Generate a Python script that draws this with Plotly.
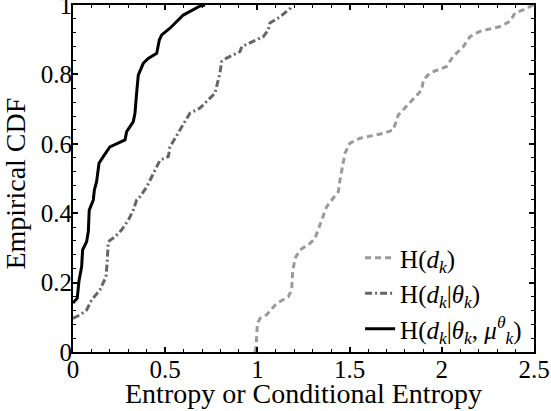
import plotly.graph_objects as go

# H(d_k) - dashed light gray
h_x = [0.987, 0.993, 1.0, 1.014, 1.05, 1.104, 1.167, 1.186, 1.191, 1.204, 1.231, 1.285, 1.312,
       1.348, 1.375, 1.403, 1.439, 1.448, 1.466, 1.475, 1.502, 1.556, 1.683, 1.737, 1.764, 1.8,
       1.845, 1.891, 1.9, 1.936, 2.026, 2.062, 2.117, 2.153, 2.207, 2.316, 2.37, 2.397, 2.442, 2.496]
h_y = [0.0, 0.015, 0.082, 0.097, 0.107, 0.14, 0.159, 0.179, 0.231, 0.27, 0.294, 0.313, 0.327,
       0.38, 0.418, 0.438, 0.462, 0.496, 0.544, 0.573, 0.602, 0.616, 0.63, 0.64, 0.683, 0.703,
       0.727, 0.755, 0.784, 0.804, 0.823, 0.852, 0.88, 0.909, 0.924, 0.938, 0.953, 0.977, 0.986, 1.0]

# H(d_k | theta_k) - dash-dot dark gray
ht_x = [0.0, 0.038, 0.074, 0.101, 0.146, 0.179, 0.186, 0.191, 0.228, 0.264, 0.3, 0.327, 0.345,
        0.363, 0.4, 0.436, 0.472, 0.517, 0.526, 0.58, 0.634, 0.689, 0.77, 0.797, 0.806, 0.833,
        0.906, 0.915, 1.032, 1.059, 1.068, 1.123, 1.177, 1.186]
ht_y = [0.097, 0.107, 0.121, 0.15, 0.179, 0.217, 0.265, 0.318, 0.332, 0.352, 0.38, 0.409, 0.438,
        0.447, 0.476, 0.514, 0.553, 0.563, 0.591, 0.64, 0.688, 0.703, 0.746, 0.804, 0.837, 0.847,
        0.866, 0.88, 0.909, 0.928, 0.948, 0.966, 0.99, 1.0]

# H(d_k | theta_k, mu_k^theta) - solid black
htm_x = [0.0, 0.023, 0.033, 0.047, 0.052, 0.074, 0.083, 0.088, 0.11, 0.116, 0.128, 0.141, 0.164,
         0.2, 0.282, 0.291, 0.327, 0.336, 0.345, 0.354, 0.381, 0.408, 0.454, 0.468, 0.481, 0.526,
         0.598, 0.634, 0.689, 0.716]
htm_y = [0.141, 0.155, 0.207, 0.246, 0.294, 0.318, 0.347, 0.409, 0.438, 0.467, 0.491, 0.544, 0.563,
         0.591, 0.611, 0.635, 0.664, 0.688, 0.746, 0.798, 0.832, 0.846, 0.861, 0.899, 0.914, 0.933,
         0.971, 0.981, 0.997, 1.0]

x_ticks = [0, 0.5, 1, 1.5, 2, 2.5]
x_ticklabels = ["0", "0.5", "1", "1.5", "2", "2.5"]
y_ticks = [0, 0.2, 0.4, 0.6, 0.8, 1]
y_ticklabels = ["0", "0.2", "0.4", "0.6", "0.8", "1"]
x_title = "Entropy or Conditional Entropy"
y_title = "Empirical CDF"

FONT = "Liberation Serif"
TICK_FS = 25
TITLE_FS = 28

fig = go.Figure()
fig.add_trace(go.Scatter(x=h_x, y=h_y, mode="lines", name="H(<i>d<sub>k</sub></i>)",
                         line=dict(color="#9a9a9a", width=3, dash="6px,4px")))
fig.add_trace(go.Scatter(x=ht_x, y=ht_y, mode="lines", name="H(<i>d<sub>k</sub></i>|<i>θ<sub>k</sub></i>)",
                         line=dict(color="#666666", width=3, dash="7px,3px,2px,3px")))
fig.add_trace(go.Scatter(x=htm_x, y=htm_y, mode="lines",
                         name="H(<i>d<sub>k</sub></i>|<i>θ<sub>k</sub></i>, <i>μ</i><sup><i>θ</i></sup><sub><i>k</i></sub>)",
                         line=dict(color="#000000", width=3)))

axis_common = dict(
    showline=True, linecolor="black", linewidth=2, mirror="allticks",
    ticks="inside", ticklen=5, tickwidth=1.5, tickcolor="black",
    showgrid=False, zeroline=False, ticklabeloverflow="allow",
    ticklabelstandoff=-6,
    tickfont=dict(family=FONT, size=TICK_FS, color="black"), automargin=False,
)

fig.update_layout(
    width=551, height=411,
    margin=dict(l=73, r=17, t=5, b=59),
    paper_bgcolor="white", plot_bgcolor="white",
    font=dict(family=FONT, size=TICK_FS, color="black"),
    xaxis=dict(range=[0, 2.5], tickvals=x_ticks, ticktext=x_ticklabels,
               minor=dict(dtick=0.1, ticks="inside", ticklen=3, tickcolor="black", tickwidth=1),
               **axis_common),
    yaxis=dict(range=[0, 1], tickvals=y_ticks, ticktext=y_ticklabels,
               minor=dict(dtick=0.04, ticks="inside", ticklen=3, tickcolor="black", tickwidth=1),
               **axis_common),
    legend=dict(x=0.985, y=0.0, xanchor="right", yanchor="bottom",
                bgcolor="rgba(0,0,0,0)", font=dict(family=FONT, size=25),
                tracegroupgap=0, itemwidth=30),
    showlegend=True,
    annotations=[
        dict(text=x_title, xref="paper", yref="paper", x=0.5, y=-0.121,
             xanchor="center", yanchor="middle", showarrow=False,
             font=dict(family=FONT, size=TITLE_FS, color="black")),
        dict(text=y_title, xref="paper", yref="paper", x=-0.124, y=0.485,
             xanchor="center", yanchor="middle", textangle=-90, showarrow=False,
             font=dict(family=FONT, size=TITLE_FS, color="black")),
    ],
)

fig.write_html("out.html")
